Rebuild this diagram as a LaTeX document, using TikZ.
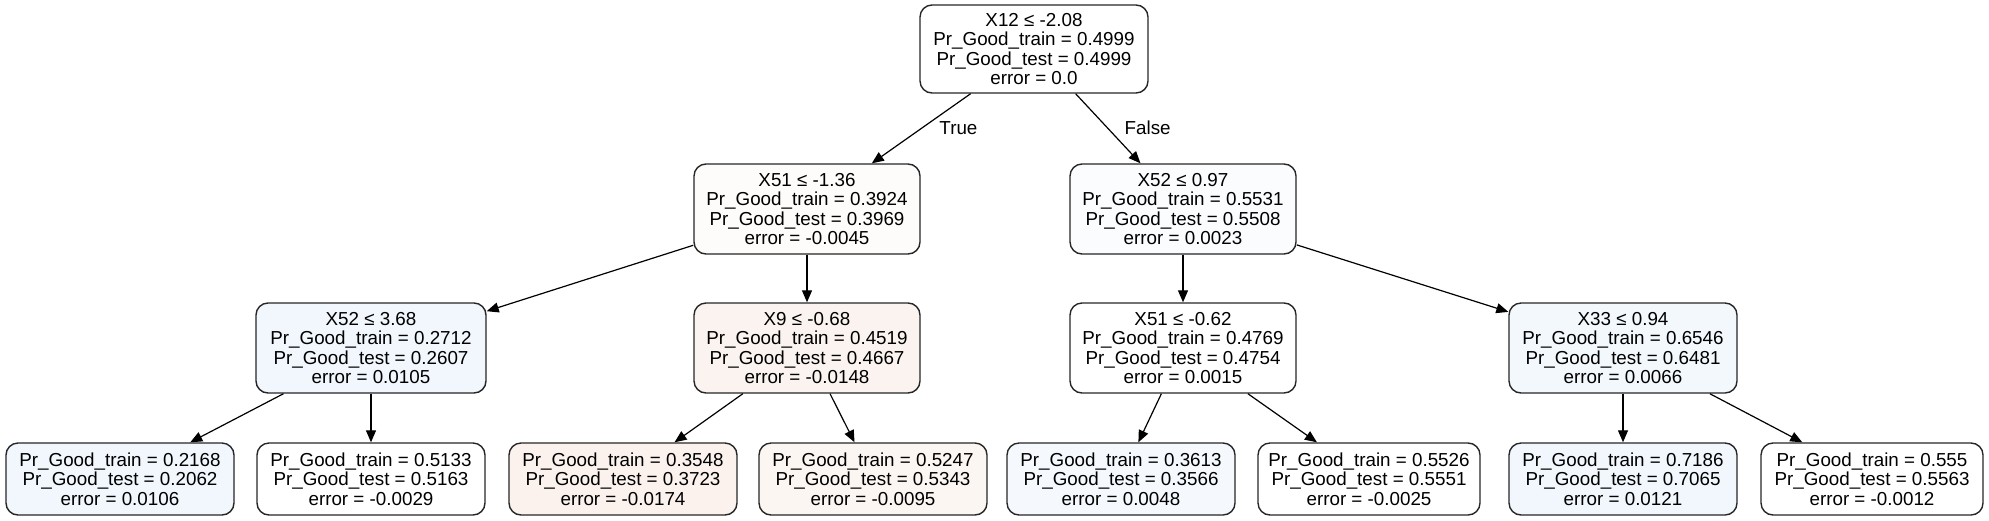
\documentclass[tikz,border=0pt]{standalone}
\usepackage{fontspec}
\setmainfont{Liberation Sans}
\usepackage{xcolor}
\usepackage{tikz}
\usetikzlibrary{arrows.meta}

\definecolor{fillA}{RGB}{254,251,251}
\definecolor{fillB}{RGB}{250,252,254}
\definecolor{fillC}{RGB}{241,247,253}
\definecolor{fillD}{RGB}{250,243,239}
\definecolor{fillE}{RGB}{243,248,253}
\definecolor{fillF}{RGB}{251,242,238}
\definecolor{fillG}{RGB}{252,246,243}
\definecolor{fillH}{RGB}{245,249,254}
\newcommand{\treefont}{\fontsize{9.4}{9.8}\selectfont}

\begin{document}
\begin{tikzpicture}[x=0.5pt,y=-0.5pt,
	split/.style={draw=black!85,line width=0.7pt,rounded corners=6pt,minimum width=113pt,minimum height=45pt,inner sep=0pt,align=center,font=\treefont},
	leaf/.style={split,minimum width=114pt,minimum height=36pt},
	edge/.style={-{Triangle[length=6pt,width=5pt]},line width=0.6pt},
	lbl/.style={font=\treefont,anchor=west,xshift=5pt}]
	\useasboundingbox (0,0) rectangle (1989,520);
	\node[split,minimum width=114pt,minimum height=44pt] (root) at (1034,49) {X12 ≤ -2.08\\Pr\_Good\_train = 0.4999\\Pr\_Good\_test = 0.4999\\error = 0.0};
	\node[split,fill=fillA] (x51a) at (807,209) {X51 ≤ -1.36\\Pr\_Good\_train = 0.3924\\Pr\_Good\_test = 0.3969\\error = -0.0045};
	\node[split,fill=fillB] (x52a) at (1183,209) {X52 ≤ 0.97\\Pr\_Good\_train = 0.5531\\Pr\_Good\_test = 0.5508\\error = 0.0023};
	\node[split,fill=fillC,minimum width=115pt] (x52b) at (371,348) {X52 ≤ 3.68\\Pr\_Good\_train = 0.2712\\Pr\_Good\_test = 0.2607\\error = 0.0105};
	\node[split,fill=fillD] (x9) at (807,348) {X9 ≤ -0.68\\Pr\_Good\_train = 0.4519\\Pr\_Good\_test = 0.4667\\error = -0.0148};
	\node[split] (x51b) at (1183,348) {X51 ≤ -0.62\\Pr\_Good\_train = 0.4769\\Pr\_Good\_test = 0.4754\\error = 0.0015};
	\node[split,fill=fillE,minimum width=114pt] (x33) at (1623,348) {X33 ≤ 0.94\\Pr\_Good\_train = 0.6546\\Pr\_Good\_test = 0.6481\\error = 0.0066};
	% leaves
	\node[leaf,fill=fillC] (l1) at (120,479) {Pr\_Good\_train = 0.2168\\Pr\_Good\_test = 0.2062\\error = 0.0106};
	\node[leaf] (l2) at (371,479) {Pr\_Good\_train = 0.5133\\Pr\_Good\_test = 0.5163\\error = -0.0029};
	\node[leaf,fill=fillF] (l3) at (623,479) {Pr\_Good\_train = 0.3548\\Pr\_Good\_test = 0.3723\\error = -0.0174};
	\node[leaf,fill=fillG] (l4) at (873,479) {Pr\_Good\_train = 0.5247\\Pr\_Good\_test = 0.5343\\error = -0.0095};
	\node[leaf,fill=fillH] (l5) at (1121,479) {Pr\_Good\_train = 0.3613\\Pr\_Good\_test = 0.3566\\error = 0.0048};
	\node[leaf,minimum width=111pt] (l6) at (1369,479) {Pr\_Good\_train = 0.5526\\Pr\_Good\_test = 0.5551\\error = -0.0025};
	\node[leaf,fill=fillC] (l7) at (1623,479) {Pr\_Good\_train = 0.7186\\Pr\_Good\_test = 0.7065\\error = 0.0121};
	\node[leaf,minimum width=111pt] (l8) at (1872,479) {Pr\_Good\_train = 0.555\\Pr\_Good\_test = 0.5563\\error = -0.0012};
	% edges
	\draw[edge] (root) -- node[lbl,pos=0.49] {True} (x51a);
	\draw[edge] (root) -- node[lbl,pos=0.49] {False} (x52a);
	\draw[edge] (x51a) -- (x52b);
	\draw[edge] (x51a) -- (x9);
	\draw[edge] (x52a) -- (x51b);
	\draw[edge] (x52a) -- (x33);
	\draw[edge] (x52b) -- (l1);
	\draw[edge] (x52b) -- (l2);
	\draw[edge] (x9) -- (l3);
	\draw[edge] (x9) -- (l4);
	\draw[edge] (x51b) -- (l5);
	\draw[edge] (x51b) -- (l6);
	\draw[edge] (x33) -- (l7);
	\draw[edge] (x33) -- (l8);
\end{tikzpicture}
\end{document}
